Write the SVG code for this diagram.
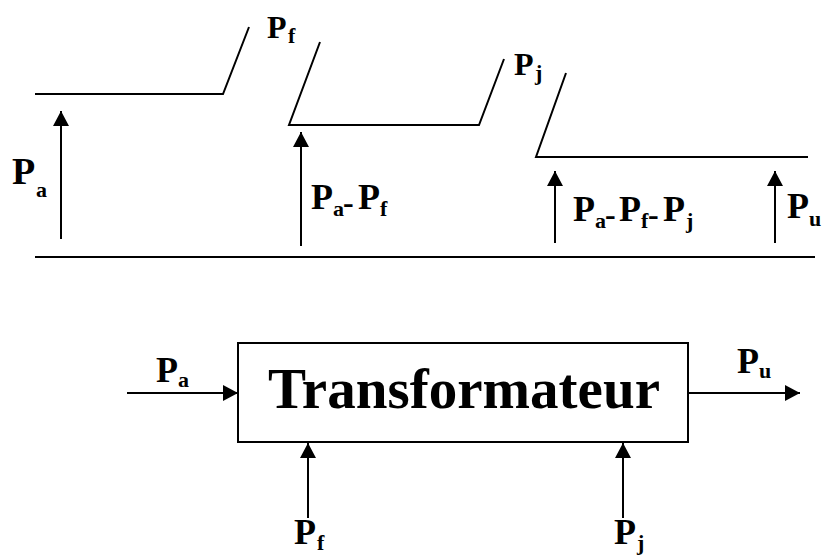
<svg xmlns="http://www.w3.org/2000/svg" width="829" height="555" viewBox="0 0 829 555">
<style>
.ln{stroke:#000;stroke-width:2;fill:none}
.ar{stroke:#000;stroke-width:2;fill:none;marker-end:url(#ah)}
.t{font-family:"Liberation Serif","Times New Roman",serif;font-weight:bold;fill:#000}
.m{font-size:36px}
.L{font-size:38px}
.s{font-size:22px}
.h{font-size:32px}
.d{font-size:32px}
.big{font-size:57px}
</style>
<defs>
<marker id="ah" markerUnits="userSpaceOnUse" markerWidth="15" markerHeight="16" refX="15" refY="8" orient="auto">
<path d="M0,0 L15,8 L0,16 z" fill="#000"/>
</marker>
</defs>
<rect width="829" height="555" fill="#fff"/>
<g id="connectors">
<polyline class="ln" points="35,94 223,94 249,27"/>
<polyline class="ln" points="320,42 289,125 479,125 504,59"/>
<polyline class="ln" points="566,73 536,157 808,157"/>
<line class="ln" x1="35" y1="257" x2="815" y2="257"/>
<line class="ar" x1="61" y1="239" x2="61" y2="111"/>
<line class="ar" x1="301" y1="246" x2="301" y2="132"/>
<line class="ar" x1="555" y1="243" x2="555" y2="171"/>
<line class="ar" x1="775" y1="243" x2="775" y2="171"/>
<line class="ar" x1="127" y1="393" x2="238" y2="393"/>
<line class="ar" x1="688" y1="393" x2="800" y2="393"/>
<line class="ar" x1="308" y1="518" x2="308" y2="443"/>
<line class="ar" x1="623" y1="518" x2="623" y2="443"/>
</g>
<g id="node-transformateur">
<rect x="238" y="343" width="450" height="99" fill="#fff" stroke="#000" stroke-width="2"/>
<text class="t big" x="268" y="408" textLength="392" lengthAdjust="spacingAndGlyphs">Transformateur</text>
</g>
<g id="labels">
<text class="t L" x="12" y="184">P<tspan class="s" x="36" y="197">a</tspan></text>
<text class="t h" x="267" y="38">P<tspan class="s" x="288" y="43">f</tspan></text>
<text class="t m" x="311" y="209">P<tspan class="s" x="333" y="216">a</tspan><tspan class="d" x="343" y="213">-</tspan><tspan x="358" y="209">P</tspan><tspan class="s" x="380" y="216">f</tspan></text>
<text class="t h" x="514" y="75">P<tspan class="s" x="535" y="80">j</tspan></text>
<text class="t m" x="573" y="221">P<tspan class="s" x="595" y="228">a</tspan><tspan class="d" x="605" y="225">-</tspan><tspan x="619" y="221">P</tspan><tspan class="s" x="641" y="228">f</tspan><tspan class="d" x="648" y="225">-</tspan><tspan x="663" y="221">P</tspan><tspan class="s" x="686" y="228">j</tspan></text>
<text class="t m" x="787" y="218">P<tspan class="s" x="809" y="226">u</tspan></text>
<text class="t m" x="156" y="382">P<tspan class="s" x="178" y="387">a</tspan></text>
<text class="t m" x="737" y="373">P<tspan class="s" x="759" y="378">u</tspan></text>
<text class="t m" x="294" y="544">P<tspan class="s" x="317" y="550">f</tspan></text>
<text class="t m" x="614" y="544">P<tspan class="s" x="637" y="550">j</tspan></text>
</g>
</svg>
